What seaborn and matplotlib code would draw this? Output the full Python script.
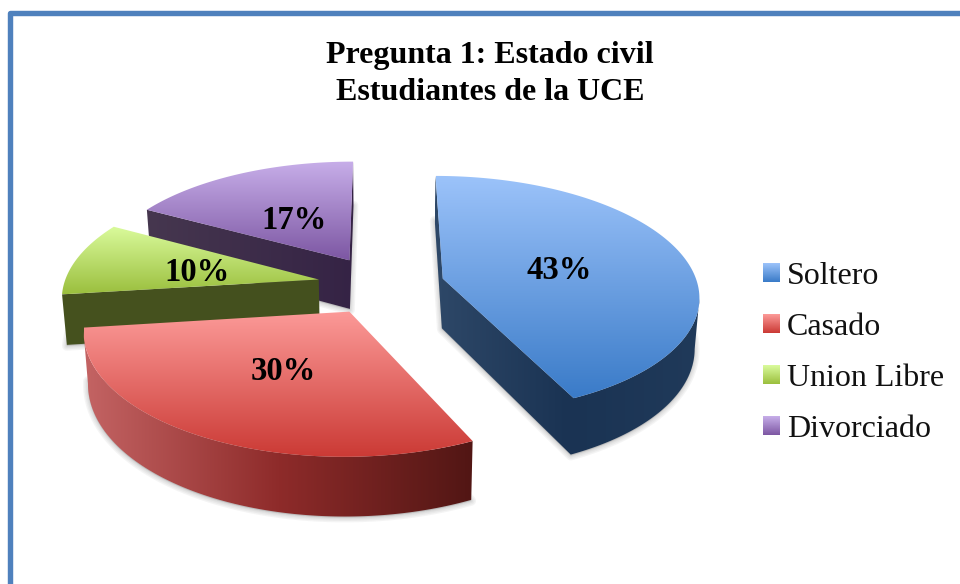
import numpy as np
import matplotlib
matplotlib.use("Agg")
import matplotlib.pyplot as plt
import seaborn as sns
from matplotlib.image import BboxImage
from matplotlib.legend_handler import HandlerBase
from matplotlib.patches import Patch, Polygon
from matplotlib.transforms import Bbox, TransformedBbox

# -----------------------------
# Data
# -----------------------------
categorias = ["Soltero", "Casado", "Union Libre", "Divorciado"]
porcentajes = [43, 30, 10, 17]
titulo = "Pregunta 1: Estado civil\nEstudiantes de la UCE"

claros = ["#9CC3FA", "#FC9A98", "#DAFB9C", "#C7AEE9"]
oscuros = ["#3A7BC8", "#CB3A35", "#9BBF3E", "#7D57A3"]
paredes = [
    ["#2E4868", "#1A3353", "#203A5A"],
    ["#C46464", "#8E2B2A", "#511614"],
    ["#46521F", "#44501E"],
    ["#46374F", "#352345"],
]

# -----------------------------
# Layout of the fake 3D pie
# -----------------------------
CX, CY = 381, 285    # centre of the pie on the canvas
A, B = 255, 118      # ellipse axes
K = 0.1335           # perspective
EXPLODE = 0.25
DEPTH = 50
label_r = [0.48, 0.48, 0.50, 0.48]

sns.set_theme(style="white")
plt.rcParams["font.family"] = ["Liberation Serif", "DejaVu Serif"]

fig = plt.figure(figsize=(9.6, 5.84), dpi=100)
ax = fig.add_axes([0, 0, 1, 1])
ax.axis("off")


def project(x, y, bajo=False):
    w = 1 + K * y
    sx = CX + A * x / w
    sy = CY - B * y / w
    if bajo:
        sx = CX + (sx - CX) * 0.985
        sy = sy + DEPTH / w
    return sx, sy


def gradient_fill(poly, data, cmap, extent, zorder):
    im = ax.imshow(data, cmap=cmap, aspect="auto", extent=extent, zorder=zorder,
                   interpolation="bilinear")
    im.set_clip_path(Polygon(poly, closed=True, transform=ax.transData))


# -----------------------------
# Slices
# -----------------------------
fracs = np.array(porcentajes) / sum(porcentajes) * 2 * np.pi
ends = np.cumsum(fracs)
starts = ends - fracs
mids = (starts + ends) / 2
s = np.linspace(0, 1, 40)

# back slices first, the red one in front of them all
orden = [3, 2, 0, 1]
for n, i in enumerate(orden):
    z = 2 + n * 3
    ax0 = EXPLODE * np.sin(mids[i])
    ay0 = EXPLODE * np.cos(mids[i])
    t = np.linspace(starts[i], ends[i], 200)
    arc_x = ax0 + np.sin(t)
    arc_y = ay0 + np.cos(t)

    # clockwise ring: apex -> arc -> apex
    ring_x = np.r_[ax0 + (arc_x[0] - ax0) * s, arc_x[1:], arc_x[-1] + (ax0 - arc_x[-1]) * s[1:]]
    ring_y = np.r_[ay0 + (arc_y[0] - ay0) * s, arc_y[1:], arc_y[-1] + (ay0 - arc_y[-1]) * s[1:]]
    tx, ty = project(ring_x, ring_y)
    bx, by = project(ring_x, ring_y, bajo=True)

    # soft shadow under the slice
    for lw in [7, 5, 3, 1.5]:
        ax.fill(bx, by + 1, facecolor="#707070", edgecolor="#707070", alpha=0.07,
                lw=lw, joinstyle="round", zorder=z)

    # wall: only the ring segments that run leftwards face the viewer
    vis = np.diff(tx) < 0
    m = len(vis)
    k = np.argmax(~vis & np.roll(vis, -1)) + 1
    segs = [(k + j) % m for j in range(m) if vis[(k + j) % m]]
    idx = segs + [(segs[-1] + 1) % m]
    wall = np.r_[np.c_[tx[idx], ty[idx]], np.c_[bx[idx], by[idx]][::-1]]
    gradient_fill(wall, np.linspace(0, 1, 256).reshape(1, -1),
                  sns.blend_palette(paredes[i], as_cmap=True),
                  (tx.min() - 1, tx.max() + 1, wall[:, 1].max() + 1, wall[:, 1].min() - 1),
                  z + 1)

    # top face with vertical gradient
    gradient_fill(np.c_[tx, ty], np.linspace(0, 1, 256).reshape(-1, 1),
                  sns.blend_palette([claros[i], oscuros[i]], as_cmap=True),
                  (tx.min(), tx.max(), ty.max(), ty.min()), z + 2)

    # percentage label
    lx, ly = project(ax0 + label_r[i] * np.sin(mids[i]), ay0 + label_r[i] * np.cos(mids[i]))
    ax.text(lx, ly + 4, f"{porcentajes[i]}%", ha="center", va="center", fontsize=23.5,
            fontweight="bold", color="black", zorder=30)

# -----------------------------
# Frame, title, legend
# -----------------------------
ax.plot([10.2, 10.2, 980], [600, 12.8, 12.8], color="#4F81BD", lw=3.9,
        solid_joinstyle="round", zorder=1)
ax.text(490, 74, titulo, ha="center", va="center", fontsize=23, fontweight="bold",
        color="black", linespacing=1.37, zorder=30)


class GradienteHandler(HandlerBase):
    def create_artists(self, legend, orig_handle, xdescent, ydescent, width, height,
                       fontsize, trans):
        caja = TransformedBbox(Bbox.from_bounds(-xdescent, -ydescent, width, height), trans)
        im = BboxImage(caja, cmap=orig_handle.cmap_grad, interpolation="bilinear")
        im.set_data(np.linspace(0, 1, 64).reshape(-1, 1))
        return [im]


handles = []
for i, nombre in enumerate(categorias):
    h = Patch(label=nombre)
    h.cmap_grad = sns.blend_palette([claros[i], oscuros[i]], as_cmap=True)
    handles.append(h)

ax.set_xlim(0, 960)
ax.set_ylim(584, 0)

ax.legend(handles=handles, loc="upper left", bbox_to_anchor=(763, 262),
          bbox_transform=ax.transData, frameon=False, fontsize=23, borderpad=0,
          borderaxespad=0, handlelength=0.53, handleheight=0.53, handletextpad=0.22,
          labelspacing=0.685, labelcolor="#111111",
          handler_map={Patch: GradienteHandler()})

fig.savefig("out.png", dpi=100)
